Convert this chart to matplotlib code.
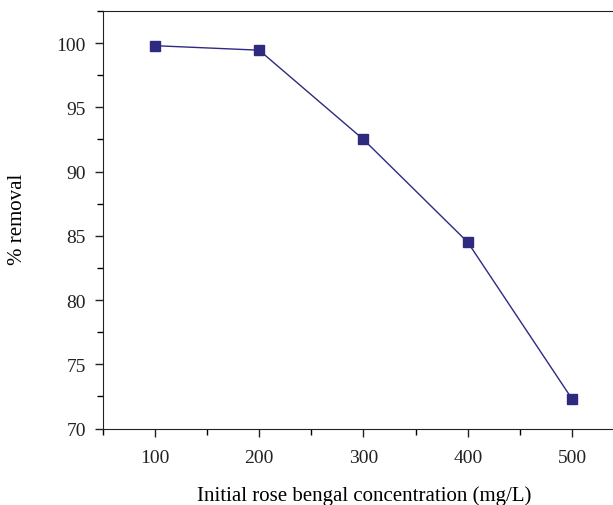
import matplotlib.pyplot as plt
from matplotlib.ticker import MultipleLocator

plt.rcParams['font.family'] = ['Liberation Serif', 'DejaVu Serif']

# Data
concentration = [100, 200, 300, 400, 500]
removal = [99.8, 99.45, 92.5, 84.5, 72.3]

fig = plt.figure(figsize=(6.13, 5.06), dpi=100)
ax = fig.add_axes([102.7 / 613, 1 - 429.5 / 506, 521.5 / 613, (429.5 - 12) / 506])

ax.plot(concentration, removal, color='#2e2a80', linewidth=1.0,
        marker='s', markersize=6.5, markerfacecolor='#2e2a80', markeredgecolor='#2e2a80')

ax.set_xlim(50, 550)
ax.set_ylim(70, 102.5)
ax.xaxis.set_major_locator(MultipleLocator(100))
ax.xaxis.set_minor_locator(MultipleLocator(50))
ax.yaxis.set_major_locator(MultipleLocator(5))
ax.yaxis.set_minor_locator(MultipleLocator(2.5))
ax.tick_params(which='major', direction='out', length=6, width=1, labelsize=14, colors='#222222', pad=6)
ax.tick_params(axis='x', which='major', pad=9)
ax.tick_params(which='minor', direction='out', length=4, width=1)
ax.spines['right'].set_visible(False)
for s in ['left', 'bottom', 'top']:
    ax.spines[s].set_color('#222222')

ax.set_xlabel('Initial rose bengal concentration (mg/L)', fontsize=15)
ax.set_ylabel('% removal', fontsize=15)
ax.xaxis.set_label_coords(0.501, -0.136)
ax.yaxis.set_label_coords(-0.145, 0.504)

fig.savefig('out.png', dpi=100)
